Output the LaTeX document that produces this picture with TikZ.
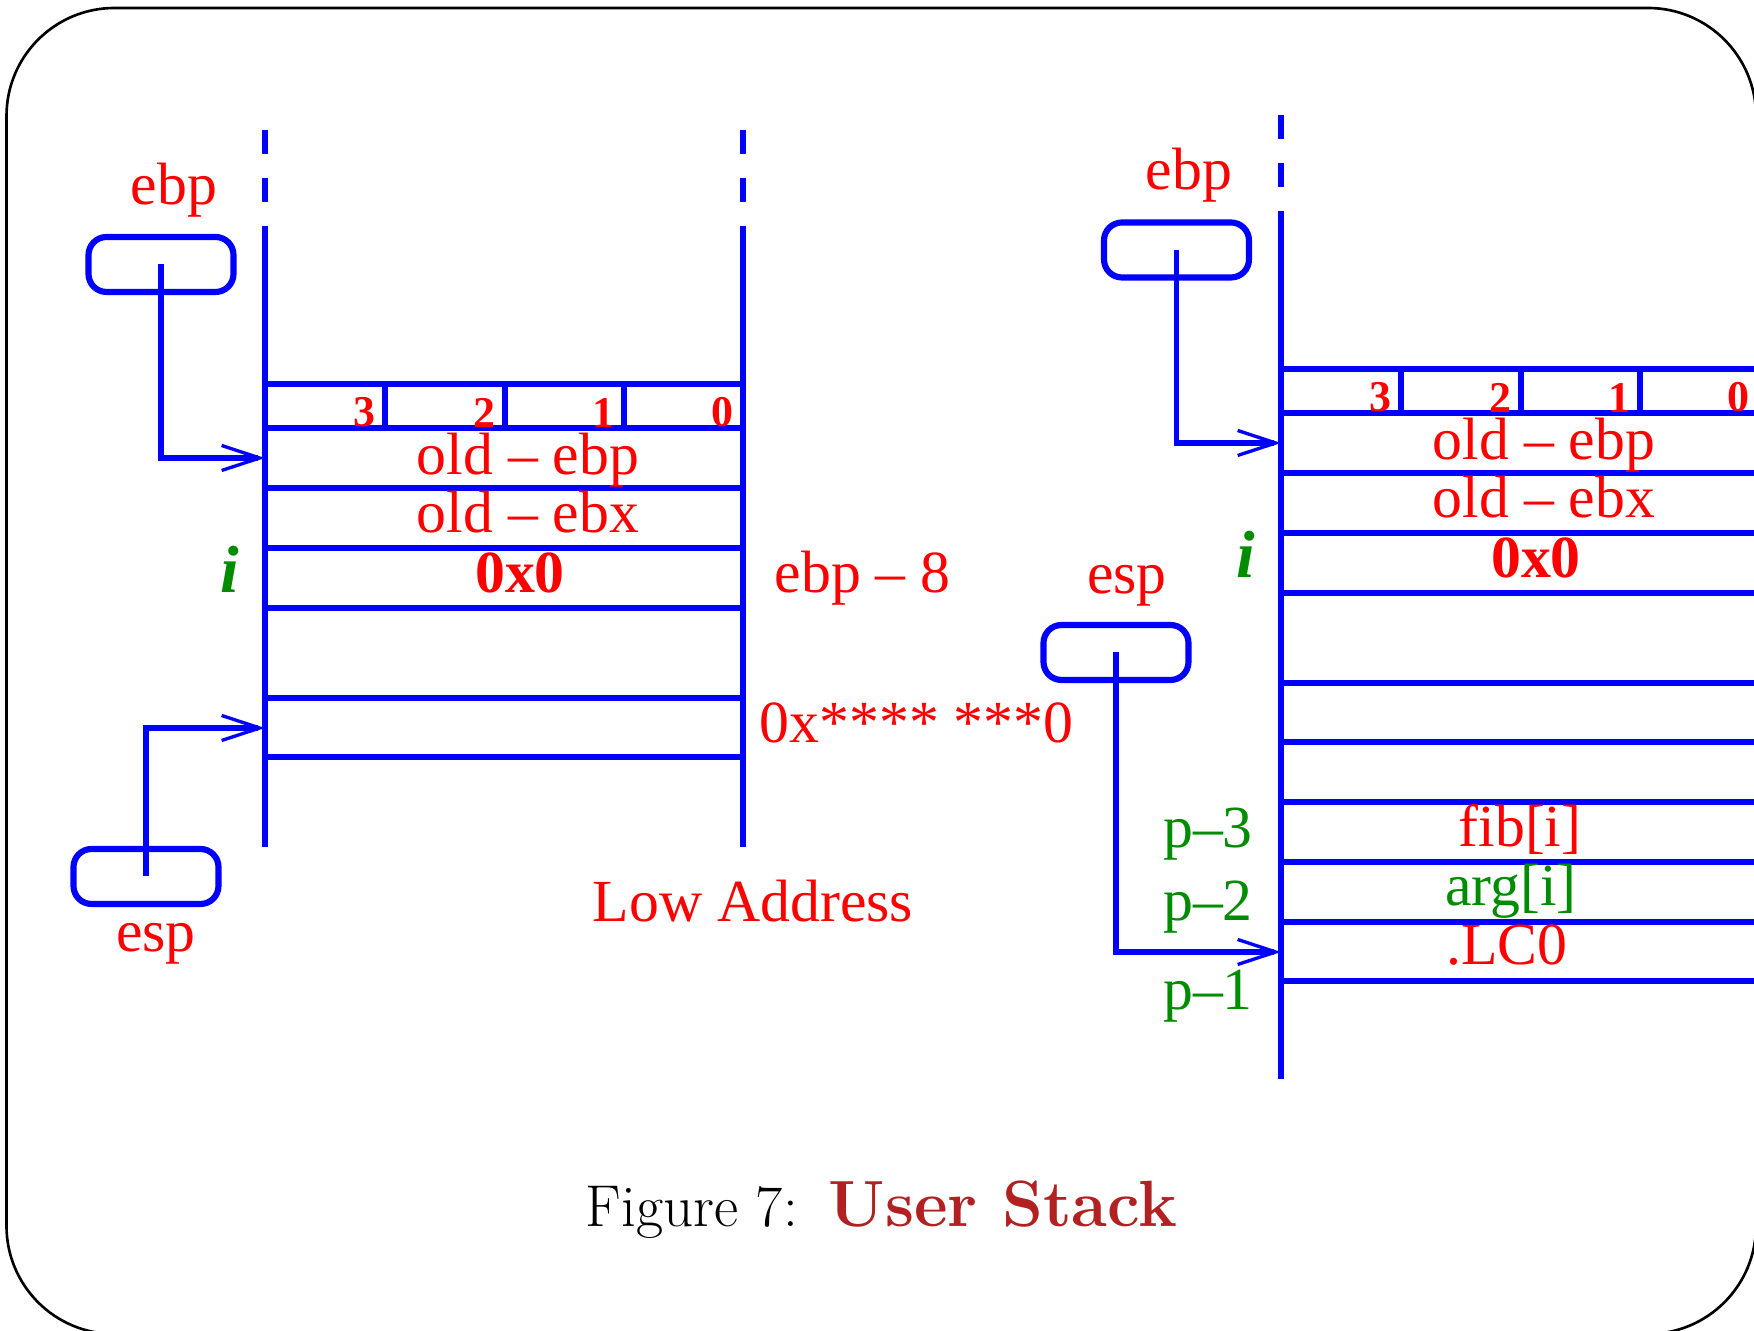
\documentclass[tikz,border=0pt]{standalone}
\usepackage{fontspec}
\usetikzlibrary{arrows.meta}
\newfontfamily\figfont{Liberation Serif}
\definecolor{regred}{rgb}{1,0,0}
\definecolor{regblue}{rgb}{0,0,1}
\definecolor{notegreen}{rgb}{0,0.55,0}
\definecolor{capred}{rgb}{0.70,0.13,0.13}
\newcommand{\Wst}{4.78}
\newcommand{\sepA}{1.20}
\newcommand{\sepB}{2.40}
\newcommand{\sepC}{3.59}
\tikzset{
  stackline/.style={regblue,line width=1.45pt},
  regbox/.style={draw=regblue,line width=1.75pt,rounded corners=0.18cm,
    minimum width=1.45cm,minimum height=0.55cm,inner sep=0pt},
  ptr/.style={regblue,line width=1.55pt,
    -{Straight Barb[length=3.8mm,width=2.5mm,line width=0.95pt]}},
  val/.style={text=regred,inner sep=0pt,anchor=base,
    font={\figfont\fontsize{17}{20}\selectfont}},
  bigval/.style={val,font={\figfont\bfseries\fontsize{17}{20}\selectfont}},
  note/.style={val,text=notegreen},
  varname/.style={val,text=notegreen,
    font={\figfont\bfseries\itshape\fontsize{19}{22}\selectfont}},
  bytenum/.style={text=regred,inner sep=0pt,anchor=south east,
    font={\figfont\bfseries\fontsize{12.5}{14}\selectfont}},
}
\newcommand{\stackframe}[3]{%
  \foreach \x in {0,\Wst}{
    \draw[stackline,dash pattern=on 0.24cm off 0.24cm] (\x,2.54) -- (\x,1.82);
    \draw[stackline] (\x,1.58) -- (\x,#2);
  }
  \draw[stackline] (0,0) -- (\Wst,0);
  \foreach \x in {\sepA,\sepB,\sepC}
    \draw[stackline] (\x,0) -- (\x,-0.44);
  \foreach \y in {#3}
    \draw[stackline] (0,\y) -- (\Wst,\y);
  \foreach \x/\bn in {1.11/3,2.31/2,3.50/1,4.69/0}
    \node[bytenum] (#1byte\bn) at (\x,-0.44) {\bn};
}

\begin{document}
\begin{tikzpicture}[x=1cm,y=1cm]
\useasboundingbox (0,0) rectangle (17.54,13.31);
\clip (0,0) rectangle (17.54,13.31);

%% ---------------- outer frame ----------------
\draw[line width=0.75pt,rounded corners=1.08cm] (0.065,-0.03) rectangle (17.56,13.23);

%% ---------------- left stack ----------------
\begin{scope}[shift={(2.65,9.47)}]
  \stackframe{L}{-4.63}{-0.44,-1.04,-1.64,-2.24,-3.14,-3.73}
  \node[val] (LoldEbp) at (2.63,-0.91) {old – ebp};
  \node[val] (LoldEbx) at (2.63,-1.49) {old – ebx};
  \node[bigval] (Lzero) at (2.55,-2.09) {0x0};
  \node[varname] (Li) at (-0.35,-2.09) {i};
  \node[val,anchor=base west] (Loff) at (5.09,-2.09) {ebp – 8};
  \node[val,anchor=base west] (Laddr) at (4.94,-3.59) {0x**** ***0};
  \coordinate (Lslot1) at (0,-0.74);
  \coordinate (Lslot5) at (0,-3.44);
\end{scope}
\node[val] (lowaddr) at (7.53,4.09) {Low Address};

%% ---------------- right stack ----------------
\begin{scope}[shift={(12.81,9.62)}]
  \stackframe{R}{-7.10}{-0.44,-1.04,-1.64,-2.24,-3.14,-3.73,-4.33,-4.93,-5.53,-6.12}
  \node[val] (RoldEbp) at (2.63,-0.91) {old – ebp};
  \node[val] (RoldEbx) at (2.63,-1.49) {old – ebx};
  \node[bigval] (Rzero) at (2.55,-2.09) {0x0};
  \node[varname] (Ri) at (-0.35,-2.09) {i};
  \node[val] (Rfib) at (2.39,-4.78) {fib[i]};
  \node[note] (Rarg) at (2.30,-5.37) {arg[i]};
  \node[val] (Rlc) at (2.26,-5.96) {.LC0};
  \node[note] (Rp3) at (-0.73,-4.79) {p–3};
  \node[note] (Rp2) at (-0.73,-5.52) {p–2};
  \node[note] (Rp1) at (-0.73,-6.41) {p–1};
  \coordinate (Rslot1) at (0,-0.74);
  \coordinate (Rslot9) at (0,-5.83);
\end{scope}

%% ---------------- registers ----------------
\node[regbox] (ebpL) at (1.61,10.665) {};
\node[val] (ebpLname) at (1.74,11.26) {ebp};
\node[regbox] (espL) at (1.46,4.545) {};
\node[val] (espLname) at (1.56,3.79) {esp};
\node[regbox] (ebpR) at (11.765,10.81) {};
\node[val] (ebpRname) at (11.89,11.41) {ebp};
\node[regbox] (espR) at (11.16,6.785) {};
\node[val] (espRname) at (11.27,7.37) {esp};

\draw[ptr] (ebpL.center) |- (Lslot1);
\draw[ptr] (espL.center) |- (Lslot5);
\draw[ptr] (ebpR.center) |- (Rslot1);
\draw[ptr] (espR.center) |- (Rslot9);

%% ---------------- caption ----------------
\node[anchor=base west,inner sep=0pt,font=\fontsize{16.8}{19}\selectfont] (figno) at (5.85,1.04) {Figure 7:};
\node[anchor=base west,inner sep=0pt,text=capred,font=\fontsize{18.6}{22}\selectfont\bfseries] (figtitle) at (8.28,1.04) {User Stack};

\end{tikzpicture}
\end{document}
